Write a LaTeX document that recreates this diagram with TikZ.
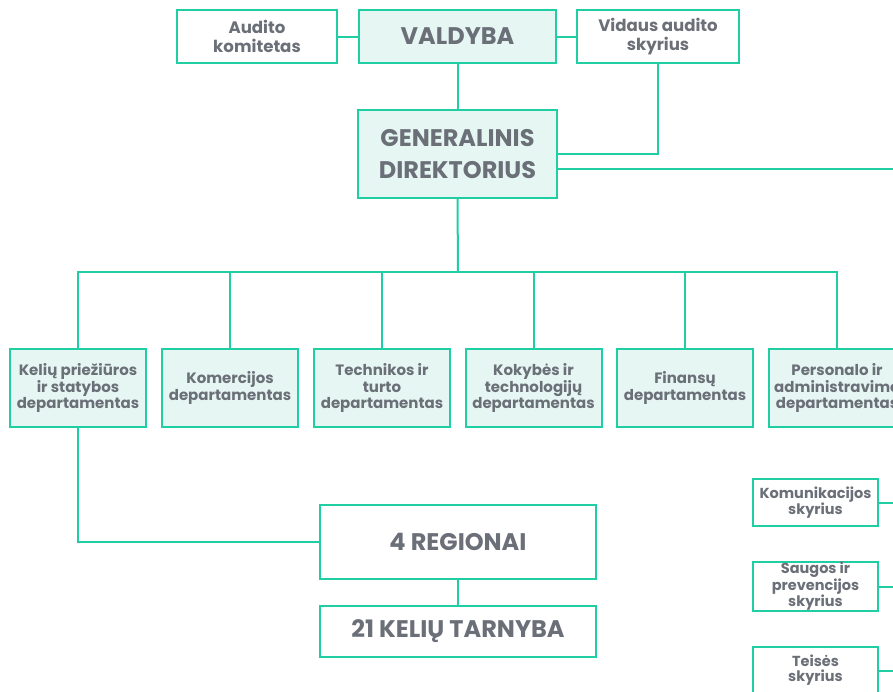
\documentclass[tikz,border=0pt]{standalone}
\usepackage{fontspec}
\setmainfont{Poppins}
\definecolor{lineG}{HTML}{1FCFA3}
\definecolor{mint}{HTML}{E6F7F3}
\definecolor{txt}{HTML}{6A6F78}
\begin{document}
\begin{tikzpicture}[x=1pt,y=-1pt,
  box/.style={draw=lineG, line width=2pt, inner sep=0pt, align=center, text=txt},
  mintbox/.style={box, fill=mint},
  wbox/.style={box, fill=white},
  conn/.style={draw=lineG, line width=2pt},
  dept/.style={mintbox, minimum width=136pt, minimum height=78pt, font=\fontsize{15}{16.8}\selectfont\bfseries},
  side/.style={wbox, minimum width=125pt, minimum height=47pt, font=\fontsize{14.5}{15.2}\selectfont\bfseries},
  top/.style={font=\fontsize{16.6}{19}\selectfont\bfseries},
  big/.style={font=\fontsize{24}{32}\selectfont\bfseries}
]
\useasboundingbox (0,0) rectangle (893,691);
\clip (0,0) rectangle (893,691);
\fill[white] (0,0) rectangle (893,691);

% top row
\node[wbox, minimum width=160pt, minimum height=53pt, top] (aud) at (257,36.5) {Audito\\komitetas};
\node[mintbox, minimum width=197pt, minimum height=53pt, big] (val) at (457.5,36.5) {VALDYBA};
\node[wbox, minimum width=162pt, minimum height=53pt, top] (via) at (658,36.5) {Vidaus audito\\skyrius};

% general director
\node[mintbox, minimum width=199pt, minimum height=88pt, big] (gd) at (457.5,154) {GENERALINIS\\DIREKTORIUS};

% departments
\node[dept] (d1) at (78,388) {Kelių priežiūros\\ir statybos\\departamentas};
\node[dept] (d2) at (230,388) {Komercijos\\departamentas};
\node[dept] (d3) at (382,388) {Technikos ir\\turto\\departamentas};
\node[dept] (d4) at (533.5,388) {Kokybės ir\\technologijų\\departamentas};
\node[dept] (d5) at (685,388) {Finansų\\departamentas};
\node[dept] (d6) at (837,388) {Personalo ir\\administravimo\\departamentas};

% regions
\node[wbox, minimum width=276pt, minimum height=74pt, big] (reg) at (458,542) {4 REGIONAI};
\node[wbox, minimum width=276pt, minimum height=51pt, big] (kt) at (458,631.5) {21 KELIŲ TARNYBA};

% right side units
\node[side] (kom) at (815.5,502.5) {Komunikacijos\\skyrius};
\node[side] (sau) at (815.5,586.5) {Saugos ir\\prevencijos\\skyrius};
\node[side] (tei) at (815.5,670.5) {Teisės\\skyrius};

% free ends at right edge
\coordinate (eGD) at (895,169);
\coordinate (eKom) at (895,502.5);
\coordinate (eSau) at (895,586.5);
\coordinate (eTei) at (895,670.5);
\coordinate (bus) at (458,272);
\coordinate (elbow) at (658,154);

% connectors
\draw[conn] (aud.east) -- (val.west);
\draw[conn] (val.east) -- (via.west);
\draw[conn] (val.south) -- (gd.north);
\draw[conn] (via.south) -- (elbow) -- (gd.east |- elbow);
\draw[conn] (gd.east |- eGD) -- (eGD);
\draw[conn] (gd.south) -- (bus);
\draw[conn] (d1.north) |- (d6.north |- bus) -- (d6.north);
\foreach \d in {d2,d3,d4,d5} \draw[conn] (\d.north) -- (\d.north |- bus);
\draw[conn] (d1.south) |- (reg.west);
\draw[conn] (reg.south) -- (kt.north);
\draw[conn] (kom.east) -- (eKom);
\draw[conn] (sau.east) -- (eSau);
\draw[conn] (tei.east) -- (eTei);
\end{tikzpicture}
\end{document}
